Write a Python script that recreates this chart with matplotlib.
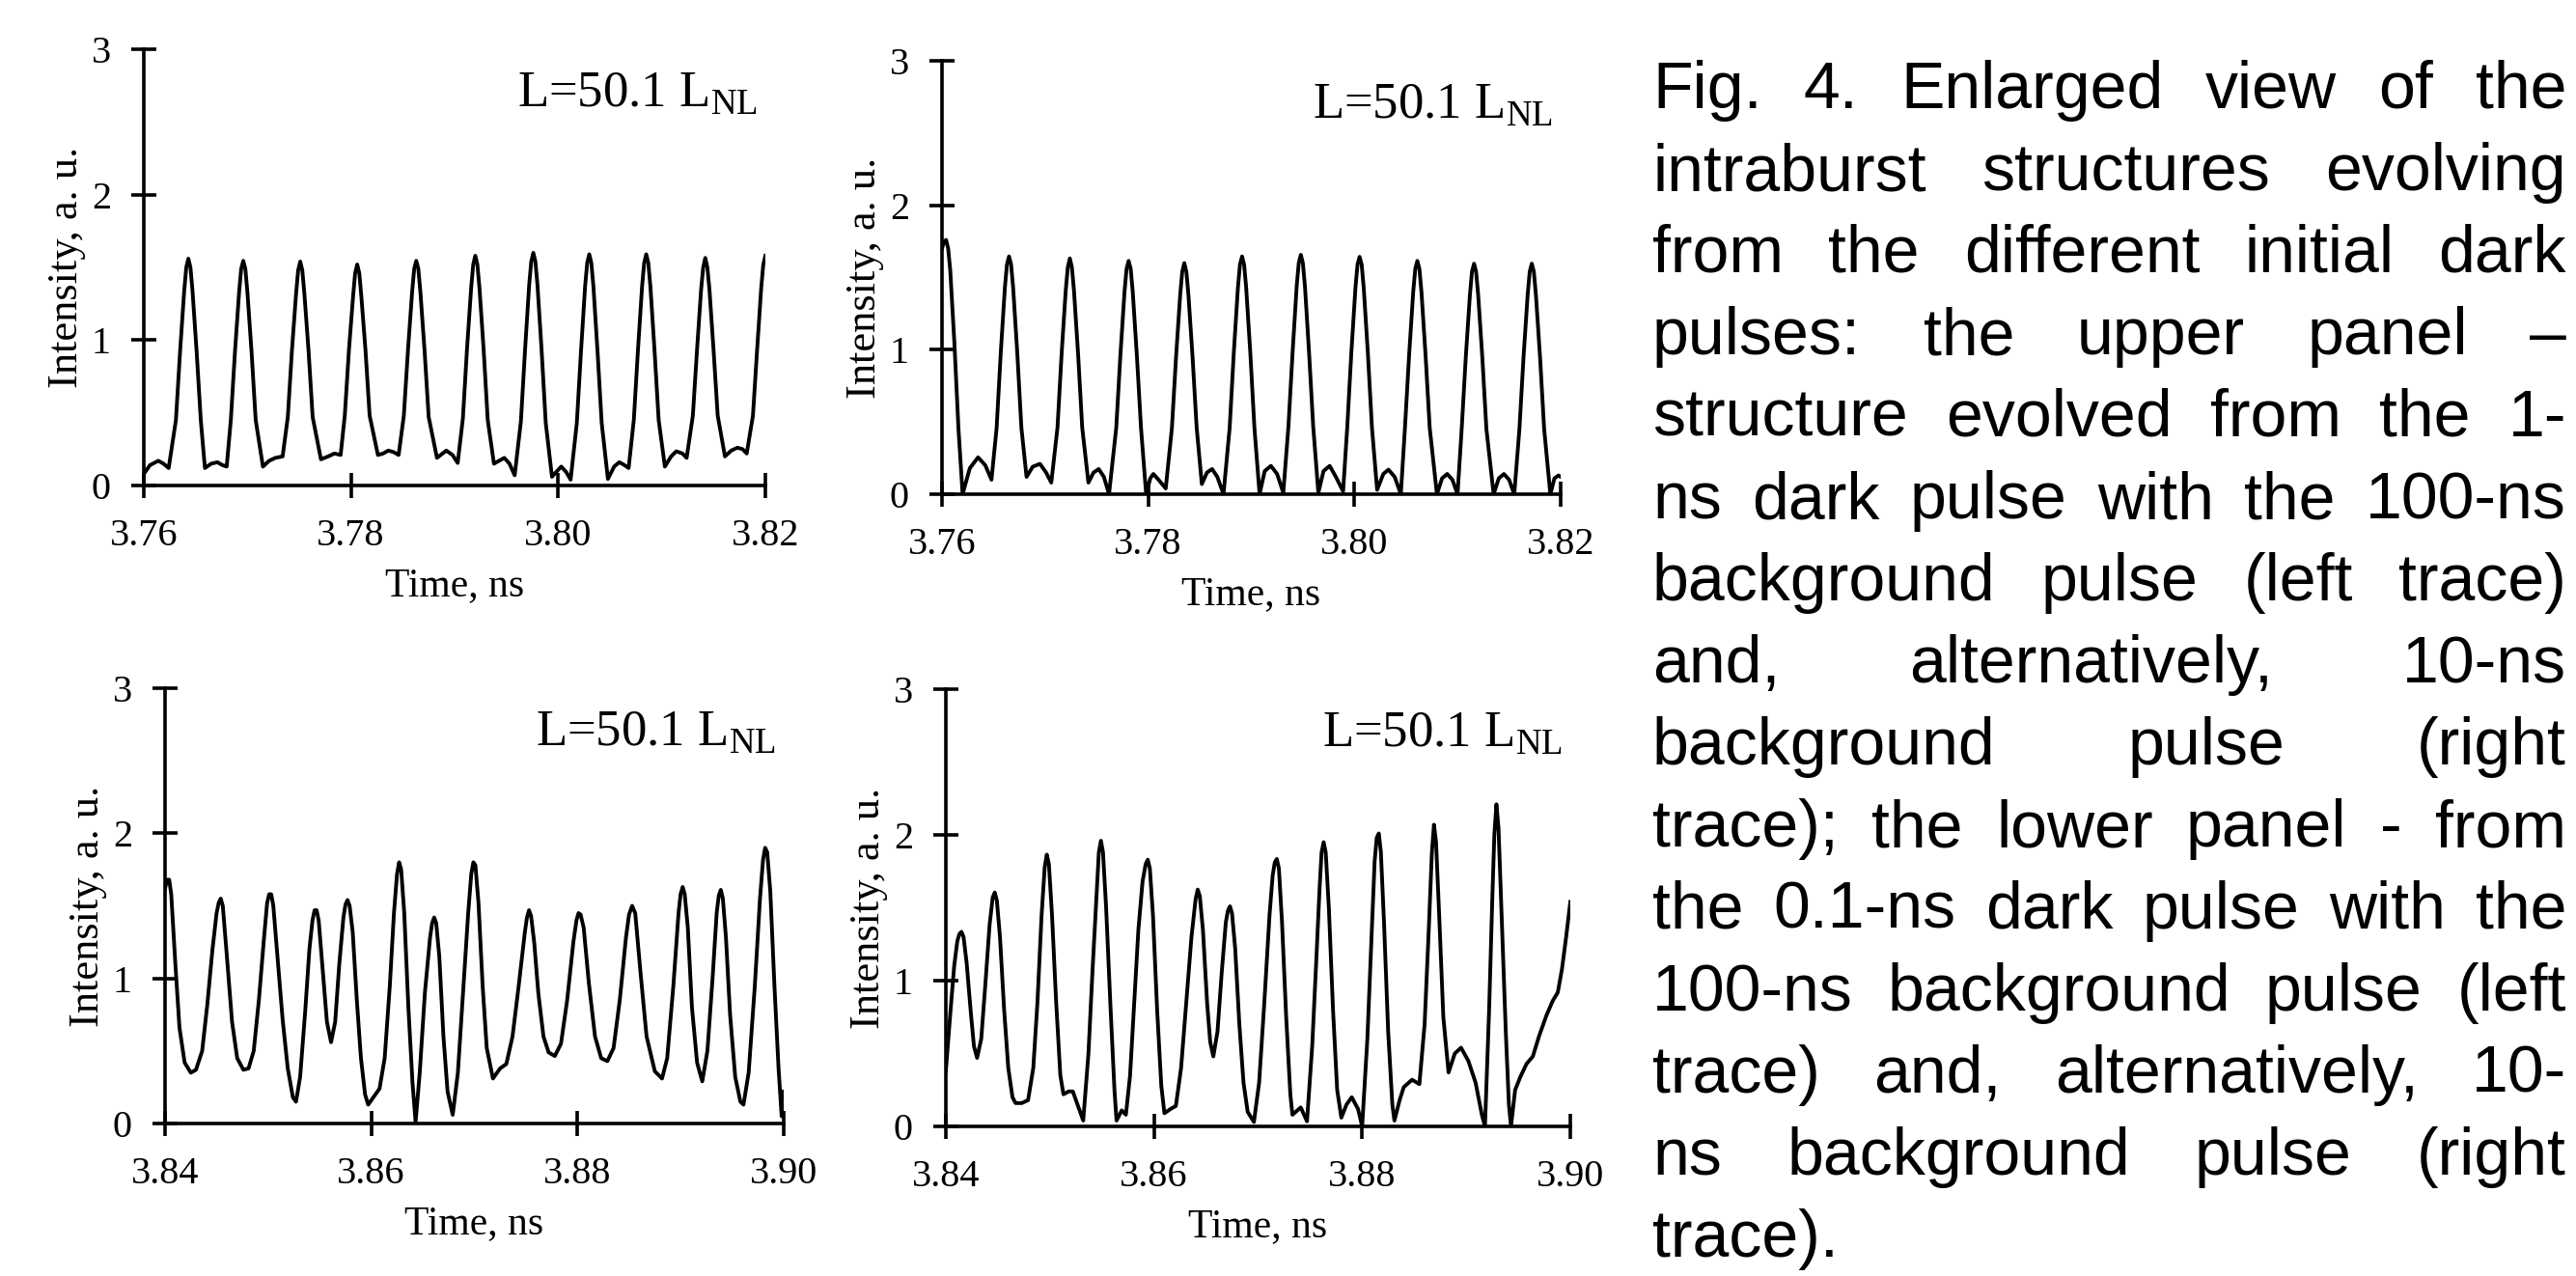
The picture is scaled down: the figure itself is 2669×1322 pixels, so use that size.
import numpy as np
import matplotlib.pyplot as plt

plt.rcParams['font.family'] = 'Liberation Serif'
plt.rcParams['mathtext.fontset'] = 'custom'
plt.rcParams['mathtext.rm'] = 'Liberation Serif'

# (time in ns, intensity in a.u.)
top_left = [
    (3.7600, 0.08), (3.7606, 0.14), (3.7614, 0.17), (3.7619, 0.15), (3.7624, 0.12),
    (3.7631, 0.45), (3.7635, 0.92), (3.7639, 1.34), (3.7641, 1.50), (3.7643, 1.56),
    (3.7645, 1.50), (3.7647, 1.34), (3.7651, 0.92), (3.7655, 0.45),
    (3.7659, 0.12), (3.7665, 0.15), (3.7671, 0.16), (3.7676, 0.14), (3.7680, 0.13),
    (3.7684, 0.45), (3.7688, 0.92), (3.7692, 1.33), (3.7694, 1.49), (3.7696, 1.545),
    (3.7698, 1.49), (3.7700, 1.33), (3.7704, 0.92), (3.7708, 0.45),
    (3.7715, 0.13), (3.7721, 0.17), (3.7727, 0.19), (3.7734, 0.20),
    (3.7739, 0.47), (3.7743, 0.93), (3.7747, 1.32), (3.7749, 1.48), (3.7751, 1.54),
    (3.7753, 1.48), (3.7755, 1.32), (3.7759, 0.93), (3.7763, 0.47),
    (3.7771, 0.18), (3.7778, 0.20), (3.7784, 0.22), (3.7790, 0.21),
    (3.7794, 0.48), (3.7798, 0.93), (3.7802, 1.30), (3.7804, 1.46), (3.7806, 1.52),
    (3.7808, 1.46), (3.7810, 1.30), (3.7814, 0.93), (3.7818, 0.48),
    (3.7826, 0.21), (3.7831, 0.22), (3.7836, 0.24), (3.7841, 0.23), (3.7846, 0.21),
    (3.7851, 0.48), (3.7855, 0.93), (3.7859, 1.33), (3.7861, 1.49), (3.7863, 1.545),
    (3.7865, 1.49), (3.7867, 1.33), (3.7871, 0.93), (3.7875, 0.47),
    (3.7883, 0.19), (3.7892, 0.24), (3.7898, 0.21), (3.7903, 0.155),
    (3.7908, 0.46), (3.7912, 0.94), (3.7916, 1.36), (3.7918, 1.52), (3.7920, 1.58),
    (3.7922, 1.52), (3.7924, 1.36), (3.7928, 0.94), (3.7932, 0.45),
    (3.7938, 0.15), (3.7943, 0.17), (3.7948, 0.19), (3.7953, 0.15), (3.7958, 0.07),
    (3.7964, 0.44), (3.7968, 0.93), (3.7972, 1.38), (3.7974, 1.54), (3.7976, 1.60),
    (3.7978, 1.54), (3.7980, 1.38), (3.7984, 0.93), (3.7988, 0.43),
    (3.7994, 0.06), (3.7999, 0.10), (3.8003, 0.13), (3.8008, 0.09), (3.8012, 0.04),
    (3.8018, 0.43), (3.8022, 0.92), (3.8026, 1.37), (3.8028, 1.53), (3.8030, 1.59),
    (3.8032, 1.53), (3.8034, 1.37), (3.8038, 0.92), (3.8042, 0.43),
    (3.8048, 0.045), (3.8054, 0.13), (3.8059, 0.16), (3.8064, 0.14), (3.8068, 0.12),
    (3.8073, 0.45), (3.8077, 0.93), (3.8081, 1.37), (3.8083, 1.53), (3.8085, 1.59),
    (3.8087, 1.53), (3.8089, 1.37), (3.8093, 0.93), (3.8097, 0.45),
    (3.8103, 0.13), (3.8109, 0.20), (3.8114, 0.235), (3.8120, 0.22), (3.8124, 0.19),
    (3.8130, 0.48), (3.8134, 0.93), (3.8138, 1.35), (3.8140, 1.50), (3.8142, 1.565),
    (3.8144, 1.50), (3.8146, 1.35), (3.8150, 0.93), (3.8154, 0.48),
    (3.8161, 0.20), (3.8167, 0.24), (3.8173, 0.26), (3.8178, 0.25), (3.8182, 0.22),
    (3.8188, 0.48), (3.8192, 0.93), (3.8196, 1.36), (3.8198, 1.52), (3.8200, 1.58),
]

top_right = [
    (3.7600, 1.70), (3.7602, 1.75), (3.7604, 1.76), (3.7606, 1.70), (3.7608, 1.55),
    (3.7612, 1.05), (3.7616, 0.45), (3.7620, 0.00),
    (3.7627, 0.18), (3.7635, 0.255), (3.7642, 0.20), (3.7648, 0.10),
    (3.7653, 0.46), (3.7657, 0.98), (3.7661, 1.43), (3.7663, 1.59), (3.7665, 1.646),
    (3.7667, 1.59), (3.7669, 1.43), (3.7673, 0.98), (3.7677, 0.46),
    (3.7682, 0.12), (3.7688, 0.19), (3.7695, 0.21), (3.7701, 0.15), (3.7706, 0.08),
    (3.7712, 0.46), (3.7716, 0.97), (3.7720, 1.41), (3.7722, 1.57), (3.7724, 1.632),
    (3.7726, 1.57), (3.7728, 1.41), (3.7732, 0.97), (3.7736, 0.46),
    (3.7742, 0.08), (3.7747, 0.15), (3.7752, 0.174), (3.7757, 0.12), (3.7762, 0.00),
    (3.7769, 0.46), (3.7773, 0.96), (3.7777, 1.40), (3.7779, 1.56), (3.7781, 1.615),
    (3.7783, 1.56), (3.7785, 1.40), (3.7789, 0.96), (3.7793, 0.46),
    (3.7798, 0.00), (3.7802, 0.11), (3.7805, 0.14), (3.7810, 0.10), (3.7817, 0.04),
    (3.7823, 0.46), (3.7827, 0.95), (3.7831, 1.38), (3.7833, 1.54), (3.7835, 1.60),
    (3.7837, 1.54), (3.7839, 1.38), (3.7843, 0.95), (3.7847, 0.46),
    (3.7852, 0.07), (3.7857, 0.15), (3.7862, 0.174), (3.7867, 0.12), (3.7873, 0.00),
    (3.7879, 0.46), (3.7883, 0.98), (3.7887, 1.43), (3.7889, 1.59), (3.7891, 1.646),
    (3.7893, 1.59), (3.7895, 1.43), (3.7899, 0.98), (3.7903, 0.46),
    (3.7908, 0.00), (3.7913, 0.16), (3.7919, 0.196), (3.7925, 0.14), (3.7931, 0.01),
    (3.7936, 0.47), (3.7940, 0.98), (3.7944, 1.44), (3.7946, 1.60), (3.7948, 1.657),
    (3.7950, 1.60), (3.7952, 1.44), (3.7956, 0.98), (3.7960, 0.47),
    (3.7965, 0.01), (3.7970, 0.16), (3.7976, 0.196), (3.7982, 0.12), (3.7989, 0.02),
    (3.7993, 0.46), (3.7997, 0.98), (3.8001, 1.43), (3.8003, 1.59), (3.8005, 1.643),
    (3.8007, 1.59), (3.8009, 1.43), (3.8013, 0.98), (3.8017, 0.46),
    (3.8022, 0.03), (3.8028, 0.14), (3.8033, 0.17), (3.8039, 0.12), (3.8045, 0.00),
    (3.8049, 0.46), (3.8053, 0.96), (3.8057, 1.40), (3.8059, 1.56), (3.8061, 1.615),
    (3.8063, 1.56), (3.8065, 1.40), (3.8069, 0.96), (3.8073, 0.46),
    (3.8080, 0.00), (3.8085, 0.11), (3.8090, 0.14), (3.8095, 0.10), (3.8100, 0.00),
    (3.8104, 0.45), (3.8108, 0.95), (3.8112, 1.38), (3.8114, 1.54), (3.8116, 1.596),
    (3.8118, 1.54), (3.8120, 1.38), (3.8124, 0.95), (3.8128, 0.45),
    (3.8135, 0.00), (3.8140, 0.11), (3.8145, 0.14), (3.8150, 0.10), (3.8155, 0.00),
    (3.8160, 0.45), (3.8164, 0.95), (3.8168, 1.38), (3.8170, 1.54), (3.8172, 1.596),
    (3.8174, 1.54), (3.8176, 1.38), (3.8180, 0.95), (3.8184, 0.45),
    (3.8190, 0.00), (3.8194, 0.11), (3.8198, 0.13), (3.8200, 0.12),
]

bottom_left = [
    (3.8400, 1.62), (3.8402, 1.68), (3.8404, 1.68), (3.8406, 1.58), (3.8410, 1.10),
    (3.8414, 0.66), (3.8419, 0.42), (3.8425, 0.35), (3.8430, 0.37), (3.8436, 0.50),
    (3.8441, 0.82), (3.8446, 1.20), (3.8450, 1.45), (3.8452, 1.52), (3.8454, 1.55),
    (3.8456, 1.50), (3.8460, 1.15), (3.8465, 0.70), (3.8470, 0.45), (3.8476, 0.37),
    (3.8481, 0.38), (3.8486, 0.50), (3.8491, 0.85), (3.8496, 1.28), (3.8499, 1.52),
    (3.8501, 1.58), (3.8503, 1.58), (3.8505, 1.50), (3.8509, 1.15), (3.8514, 0.72),
    (3.8519, 0.38), (3.8524, 0.18), (3.8527, 0.15), (3.8531, 0.32), (3.8536, 0.78),
    (3.8540, 1.20), (3.8543, 1.40), (3.8545, 1.47), (3.8547, 1.47), (3.8549, 1.40),
    (3.8553, 1.05), (3.8557, 0.70), (3.8561, 0.56), (3.8565, 0.70), (3.8569, 1.10),
    (3.8573, 1.42), (3.8575, 1.51), (3.8577, 1.54), (3.8579, 1.50), (3.8582, 1.32),
    (3.8586, 0.85), (3.8590, 0.45), (3.8594, 0.20), (3.8597, 0.13), (3.8602, 0.18),
    (3.8608, 0.24), (3.8613, 0.45), (3.8618, 0.95), (3.8622, 1.45), (3.8625, 1.72),
    (3.8627, 1.80), (3.8629, 1.75), (3.8632, 1.45), (3.8636, 0.80), (3.8640, 0.28),
    (3.8643, 0.01), (3.8647, 0.35), (3.8652, 0.90), (3.8657, 1.28), (3.8659, 1.38),
    (3.8661, 1.42), (3.8663, 1.38), (3.8666, 1.15), (3.8670, 0.60), (3.8674, 0.22),
    (3.8679, 0.06), (3.8684, 0.35), (3.8689, 0.90), (3.8694, 1.45), (3.8697, 1.72),
    (3.8699, 1.80), (3.8701, 1.78), (3.8704, 1.52), (3.8708, 0.95), (3.8712, 0.52),
    (3.8718, 0.31), (3.8725, 0.38), (3.8731, 0.41), (3.8737, 0.60), (3.8743, 0.95),
    (3.8749, 1.32), (3.8751, 1.42), (3.8753, 1.47), (3.8755, 1.43), (3.8758, 1.25),
    (3.8762, 0.90), (3.8767, 0.60), (3.8772, 0.49), (3.8778, 0.465), (3.8784, 0.55),
    (3.8790, 0.85), (3.8796, 1.25), (3.8799, 1.40), (3.8801, 1.45), (3.8803, 1.44),
    (3.8806, 1.35), (3.8811, 0.97), (3.8817, 0.60), (3.8823, 0.45), (3.8829, 0.43),
    (3.8835, 0.52), (3.8841, 0.85), (3.8847, 1.28), (3.8850, 1.44), (3.8853, 1.50),
    (3.8856, 1.45), (3.8861, 1.05), (3.8867, 0.60), (3.8875, 0.36), (3.8882, 0.31),
    (3.8887, 0.45), (3.8893, 0.95), (3.8898, 1.45), (3.8900, 1.58), (3.8902, 1.63),
    (3.8904, 1.58), (3.8907, 1.35), (3.8911, 0.80), (3.8916, 0.42), (3.8921, 0.29),
    (3.8926, 0.50), (3.8931, 1.00), (3.8935, 1.45), (3.8937, 1.57), (3.8939, 1.61),
    (3.8941, 1.55), (3.8944, 1.28), (3.8948, 0.75), (3.8953, 0.32), (3.8958, 0.15),
    (3.8961, 0.13), (3.8966, 0.35), (3.8972, 0.95), (3.8977, 1.55), (3.8980, 1.82),
    (3.8982, 1.90), (3.8984, 1.87), (3.8987, 1.60), (3.8991, 0.95), (3.8995, 0.38),
    (3.8998, 0.05), (3.9000, 0.22),
]

bottom_right = [
    (3.8400, 0.38), (3.8404, 0.75), (3.8408, 1.10), (3.8411, 1.27), (3.8413, 1.32),
    (3.8415, 1.335), (3.8417, 1.30), (3.8420, 1.12), (3.8424, 0.78), (3.8427, 0.55),
    (3.8430, 0.47), (3.8434, 0.60), (3.8438, 0.98), (3.8442, 1.38), (3.8445, 1.57),
    (3.8447, 1.605), (3.8449, 1.55), (3.8452, 1.30), (3.8456, 0.80), (3.8460, 0.40),
    (3.8464, 0.20), (3.8467, 0.16), (3.8473, 0.16), (3.8479, 0.18), (3.8484, 0.40),
    (3.8488, 0.85), (3.8492, 1.45), (3.8495, 1.78), (3.8497, 1.865), (3.8499, 1.80),
    (3.8502, 1.45), (3.8506, 0.85), (3.8510, 0.35), (3.8513, 0.22), (3.8518, 0.24),
    (3.8522, 0.24), (3.8527, 0.14), (3.8532, 0.04), (3.8537, 0.50), (3.8541, 1.08),
    (3.8545, 1.62), (3.8547, 1.88), (3.8549, 1.96), (3.8551, 1.88), (3.8554, 1.50),
    (3.8558, 0.85), (3.8562, 0.25), (3.8564, 0.04), (3.8569, 0.11), (3.8573, 0.08),
    (3.8577, 0.35), (3.8581, 0.85), (3.8585, 1.35), (3.8589, 1.68), (3.8592, 1.80),
    (3.8594, 1.83), (3.8596, 1.77), (3.8599, 1.45), (3.8603, 0.80), (3.8607, 0.28),
    (3.8610, 0.09), (3.8616, 0.12), (3.8621, 0.14), (3.8626, 0.40), (3.8631, 0.85),
    (3.8636, 1.30), (3.8640, 1.56), (3.8642, 1.625), (3.8644, 1.58), (3.8647, 1.35),
    (3.8651, 0.85), (3.8654, 0.58), (3.8657, 0.48), (3.8661, 0.65), (3.8665, 1.05),
    (3.8669, 1.40), (3.8671, 1.48), (3.8673, 1.51), (3.8675, 1.46), (3.8678, 1.22),
    (3.8682, 0.70), (3.8686, 0.30), (3.8690, 0.10), (3.8696, 0.03), (3.8701, 0.30),
    (3.8706, 0.85), (3.8711, 1.45), (3.8714, 1.72), (3.8716, 1.81), (3.8718, 1.835),
    (3.8720, 1.77), (3.8723, 1.40), (3.8727, 0.75), (3.8731, 0.22), (3.8733, 0.08),
    (3.8741, 0.13), (3.8747, 0.035), (3.8752, 0.55), (3.8756, 1.15), (3.8759, 1.62),
    (3.8761, 1.88), (3.8763, 1.95), (3.8765, 1.88), (3.8768, 1.50), (3.8772, 0.80),
    (3.8776, 0.25), (3.8780, 0.06), (3.8785, 0.15), (3.8790, 0.20), (3.8796, 0.12),
    (3.8800, 0.00), (3.8805, 0.60), (3.8809, 1.30), (3.8812, 1.82), (3.8814, 1.98),
    (3.8816, 2.01), (3.8818, 1.88), (3.8821, 1.40), (3.8825, 0.65), (3.8829, 0.15),
    (3.8831, 0.04), (3.8836, 0.18), (3.8840, 0.27), (3.8848, 0.32), (3.8855, 0.29),
    (3.8860, 0.70), (3.8864, 1.35), (3.8867, 1.88), (3.8869, 2.07), (3.8871, 1.95),
    (3.8874, 1.45), (3.8878, 0.75), (3.8883, 0.37), (3.8889, 0.50), (3.8895, 0.54),
    (3.8902, 0.45), (3.8909, 0.30), (3.8915, 0.08), (3.8918, 0.00), (3.8922, 0.80),
    (3.8925, 1.55), (3.8927, 2.00), (3.8929, 2.21), (3.8931, 2.05), (3.8934, 1.45),
    (3.8938, 0.65), (3.8941, 0.15), (3.8943, 0.00), (3.8947, 0.25), (3.8952, 0.34),
    (3.8958, 0.43), (3.8964, 0.48), (3.8970, 0.62), (3.8977, 0.76), (3.8983, 0.86),
    (3.8988, 0.92), (3.8992, 1.08), (3.8996, 1.30), (3.9000, 1.54),
]

top_ticks = [3.76, 3.78, 3.80, 3.82]
bottom_ticks = [3.84, 3.86, 3.88, 3.90]
y_ticks = [0, 1, 2, 3]
length_label = r'L=50.1 L$_{\mathrm{NL}}$'

caption_lines = [
    'Fig. 4. Enlarged view of the',
    'intraburst structures evolving',
    'from the different initial dark',
    'pulses: the upper panel \u2013',
    'structure evolved from the 1-',
    'ns dark pulse with the 100-ns',
    'background pulse (left trace)',
    'and, alternatively, 10-ns',
    'background pulse (right',
    'trace); the lower panel - from',
    'the 0.1-ns dark pulse with the',
    '100-ns background pulse (left',
    'trace) and, alternatively, 10-',
    'ns background pulse (right',
    'trace).',
]

W, H = 2669, 1322
fig = plt.figure(figsize=(W / 100, H / 100), dpi=100)

panels = [
    (top_left, top_ticks, [149, 51, 793, 503]),
    (top_right, top_ticks, [976, 63, 1617, 512]),
    (bottom_left, bottom_ticks, [171, 713, 812, 1164]),
    (bottom_right, bottom_ticks, [980, 714, 1627, 1167]),
]

for data, xt, (x0, y0, x1, y1) in panels:
    ax = fig.add_axes([x0 / W, 1 - y1 / H, (x1 - x0) / W, (y1 - y0) / H])
    t, inten = np.array(data).T
    ax.plot(t, inten, color='black', lw=2.8, solid_joinstyle='round')
    ax.set_xlim(xt[0], xt[-1])
    ax.set_ylim(0, 3)
    ax.set_xticks(xt)
    ax.set_xticklabels(['%.2f' % v for v in xt])
    ax.set_yticks(y_ticks)
    for side in ['top', 'right']:
        ax.spines[side].set_visible(False)
    for side in ['left', 'bottom']:
        ax.spines[side].set_linewidth(2.6)
    ax.tick_params(direction='inout', length=19, width=2.6, pad=15, labelsize=29)
    ax.set_xlabel('Time, ns', fontsize=30, labelpad=10)
    ax.set_ylabel('Intensity, a. u.', fontsize=32, labelpad=4)
    ax.text(0.987, 0.868, length_label, transform=ax.transAxes,
            ha='right', va='baseline', fontsize=38)

# justified caption on the right
renderer = fig.canvas.get_renderer()
left_px, right_px = 1712, 2659
base0, step = 112, 85
cap_size = 49
space_px = 0.278 * cap_size * 100 / 72
for k, line in enumerate(caption_lines):
    y = 1 - (base0 + k * step) / H
    words = line.split(' ')
    texts = [fig.text(0, y, w, fontsize=cap_size, family='Liberation Sans',
                      va='baseline', ha='left') for w in words]
    widths = [tx.get_window_extent(renderer).width for tx in texts]
    if k == len(caption_lines) - 1 or len(words) == 1:
        gap = space_px
    else:
        gap = (right_px - left_px - sum(widths)) / (len(words) - 1)
    x = left_px
    for tx, w in zip(texts, widths):
        tx.set_x(x / W)
        x += w + gap

fig.savefig('out.png', dpi=100)
